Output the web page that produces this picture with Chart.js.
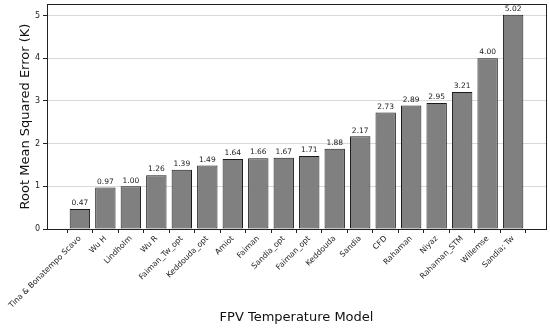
<!DOCTYPE html>
<html>
<head>
<meta charset="utf-8">
<script src="https://cdn.jsdelivr.net/npm/chart.js@4/dist/chart.umd.min.js"></script>
<style>
  html, body { margin: 0; padding: 0; background: #fff; }
  #wrap { width: 550px; height: 329px; }
</style>
</head>
<body>
<div id="wrap"><canvas id="rmseChart" width="550" height="329"></canvas></div>
<script>
// FPV temperature models, sorted by RMSE
const models = ["Tina & Bonatempo Scavo", "Wu H", "Lindholm", "Wu R", "Faiman_Tw_opt",
    "Keddouda_opt", "Amiot", "Faiman", "Sandia_opt", "Faiman_opt", "Keddouda", "Sandia",
    "CFD", "Rahaman", "Niyaz", "Rahaman_STM", "Willemse", "Sandia; Tw"];
const rmse = [0.47, 0.97, 1.00, 1.26, 1.39, 1.49, 1.64, 1.66, 1.67, 1.71, 1.88, 2.17,
    2.73, 2.89, 2.95, 3.21, 4.00, 5.02];
const yTicks = [0, 1, 2, 3, 4, 5];

const font = "'DejaVu Sans', sans-serif";

// value labels above bars + full frame around the plot
const barLabels = {
    id: "barLabels",
    afterDatasetsDraw(chart) {
        const ctx = chart.ctx;
        const meta = chart.getDatasetMeta(0);
        ctx.save();
        ctx.font = "7.5px " + font;
        ctx.fillStyle = "#222";
        ctx.textAlign = "center";
        ctx.textBaseline = "bottom";
        meta.data.forEach((bar, i) => {
            ctx.fillText(rmse[i].toFixed(2), bar.x, bar.y - 2);
        });
        const a = chart.chartArea;
        ctx.strokeStyle = "#222";
        ctx.lineWidth = 1;
        ctx.strokeRect(Math.round(a.left) + 0.5, Math.round(a.top) + 0.5,
            Math.round(a.right - a.left), Math.round(a.bottom - a.top));
        ctx.restore();
    }
};

const ctx = document.getElementById("rmseChart").getContext("2d");
new Chart(ctx, {
    type: "bar",
    data: {
        datasets: [
            {
                data: rmse.map((v, i) => ({ x: i, y: v })),
                backgroundColor: "#808080",
                borderColor: "#1a1a1a",
                borderWidth: 1,
                borderSkipped: false,
                barPercentage: 1,
                categoryPercentage: 0.8,
            },
        ],
    },
    options: {
        responsive: false,
        animation: false,
        layout: { padding: { top: 4, right: 4, left: 0, bottom: 0 } },
        plugins: {
            legend: { display: false },
            tooltip: { enabled: false },
        },
        scales: {
            x: {
                type: "linear",
                offset: false,
                min: -1.29,
                max: 18.29,
                afterBuildTicks: (axis) => {
                    axis.ticks = models.map((m, i) => ({ value: i }));
                },
                afterFit: (axis) => { axis.height = 100; },
                ticks: {
                    autoSkip: false,
                    maxRotation: 45,
                    minRotation: 45,
                    padding: 1,
                    color: "#222",
                    font: { family: font, size: 7.8 },
                    callback: (v) => models[v],
                },
                grid: {
                    drawOnChartArea: false,
                    tickLength: 4,
                    tickColor: "#222",
                },
                border: { display: true, color: "#222" },
                title: {
                    display: true,
                    text: "FPV Temperature Model",
                    color: "#111",
                    font: { family: font, size: 13 },
                    padding: { top: 0, bottom: 4 },
                },
            },
            y: {
                min: 0,
                max: 5.27,
                afterBuildTicks: (axis) => {
                    axis.ticks = yTicks.map((v) => ({ value: v }));
                },
                afterFit: (axis) => {
                    axis.width = 47;
                    axis.paddingTop = 0;
                },
                ticks: {
                    padding: 3,
                    color: "#222",
                    font: { family: font, size: 8 },
                },
                grid: {
                    color: "#d9d9d9",
                    tickLength: 4,
                    tickColor: "#222",
                },
                border: { display: true, color: "#222" },
                title: {
                    display: true,
                    text: "Root Mean Squared Error (K)",
                    color: "#111",
                    font: { family: font, size: 13 },
                    padding: { top: 18, bottom: 0 },
                },
            },
        },
    },
    plugins: [barLabels],
});
</script>
</body>
</html>
